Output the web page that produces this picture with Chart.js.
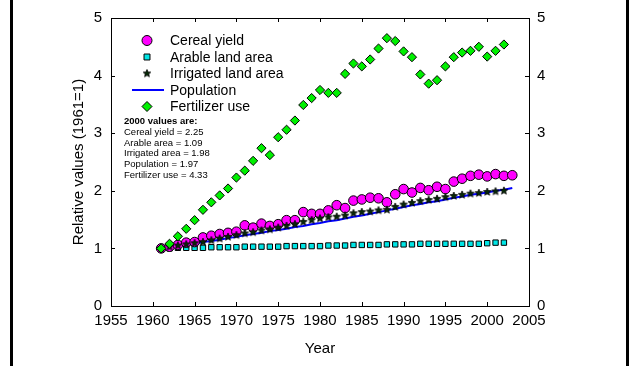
<!DOCTYPE html>
<html>
<head>
<meta charset="utf-8">
<script src="https://cdn.jsdelivr.net/npm/chart.js@4/dist/chart.umd.min.js"></script>
<style>
  body { margin: 0; background: #fff; }
  canvas { display: block; }
</style>
</head>
<body>
<canvas id="graph" width="629" height="366"></canvas>
<script>
'use strict';

// years 1961..2003
const years = [1961, 1962, 1963, 1964, 1965, 1966, 1967, 1968, 1969, 1970,
  1971, 1972, 1973, 1974, 1975, 1976, 1977, 1978, 1979, 1980,
  1981, 1982, 1983, 1984, 1985, 1986, 1987, 1988, 1989, 1990,
  1991, 1992, 1993, 1994, 1995, 1996, 1997, 1998, 1999, 2000,
  2001, 2002, 2003];

const cerealYield = [1.00, 1.03, 1.06, 1.10, 1.11, 1.19, 1.22, 1.25, 1.27, 1.29,
  1.40, 1.36, 1.43, 1.39, 1.42, 1.49, 1.49, 1.63, 1.60, 1.60,
  1.66, 1.75, 1.70, 1.83, 1.85, 1.88, 1.87, 1.80, 1.94, 2.03,
  1.97, 2.05, 2.01, 2.07, 2.03, 2.16, 2.21, 2.26, 2.28, 2.25,
  2.29, 2.26, 2.27];

const arableArea = [1.00, 1.00, 1.01, 1.01, 1.01, 1.01, 1.02, 1.02, 1.02, 1.02,
  1.03, 1.03, 1.03, 1.03, 1.03, 1.04, 1.04, 1.04, 1.04, 1.04,
  1.05, 1.05, 1.05, 1.06, 1.06, 1.06, 1.06, 1.07, 1.07, 1.07,
  1.07, 1.08, 1.08, 1.08, 1.08, 1.08, 1.08, 1.08, 1.08, 1.09,
  1.10, 1.10];

const irrigatedArea = [1.00, 1.03, 1.05, 1.07, 1.09, 1.11, 1.14, 1.17, 1.20, 1.23,
  1.26, 1.28, 1.31, 1.33, 1.36, 1.39, 1.42, 1.46, 1.49, 1.52,
  1.54, 1.55, 1.57, 1.61, 1.63, 1.64, 1.66, 1.67, 1.72, 1.76,
  1.79, 1.82, 1.84, 1.86, 1.89, 1.91, 1.93, 1.95, 1.96, 1.98,
  1.99, 2.00];

const population = [1.00, 1.02, 1.04, 1.06, 1.08, 1.11, 1.13, 1.15, 1.18, 1.20,
  1.23, 1.25, 1.27, 1.30, 1.32, 1.34, 1.37, 1.39, 1.42, 1.44,
  1.47, 1.49, 1.52, 1.55, 1.57, 1.60, 1.63, 1.66, 1.69, 1.72,
  1.75, 1.77, 1.80, 1.82, 1.85, 1.88, 1.90, 1.93, 1.95, 1.97,
  2.00, 2.02, 2.05];

const fertilizerUse = [1.00, 1.08, 1.21, 1.34, 1.49, 1.67, 1.80, 1.92, 2.04, 2.23,
  2.35, 2.52, 2.74, 2.62, 2.93, 3.06, 3.22, 3.49, 3.61, 3.75,
  3.70, 3.70, 4.03, 4.21, 4.16, 4.28, 4.47, 4.65, 4.60, 4.42,
  4.32, 4.02, 3.86, 3.92, 4.16, 4.32, 4.40, 4.43, 4.50, 4.33,
  4.43, 4.54];

const xTicks = [1955, 1960, 1965, 1970, 1975, 1980, 1985, 1990, 1995, 2000, 2005];
const yTicks = [0, 1, 2, 3, 4, 5];

const legendLabels = ['Cereal yield', 'Arable land area', 'Irrigated land area', 'Population', 'Fertilizer use'];
const noteLabels = ['Cereal yield', 'Arable area', 'Irrigated area', 'Population', 'Fertilizer use'];
const noteYear = 2000;

const FONT = "'Liberation Sans', Arial, sans-serif";

function toPoints(vals) {
  return vals.map((v, i) => ({ x: years[i], y: v }));
}

// small filled star for the irrigated series
function makeStar(r) {
  const c = document.createElement('canvas');
  c.width = c.height = Math.ceil(2 * r + 2);
  const g = c.getContext('2d');
  g.beginPath();
  for (let i = 0; i < 10; i++) {
    const a = -Math.PI / 2 + i * Math.PI / 5;
    const rr = i % 2 ? r * 0.45 : r;
    g.lineTo(c.width / 2 + rr * Math.cos(a), c.height / 2 + rr * Math.sin(a));
  }
  g.closePath();
  g.fillStyle = '#062806';
  g.fill();
  g.lineWidth = 0.8;
  g.strokeStyle = '#000';
  g.stroke();
  return c;
}
const star = makeStar(4);

// ticks inside the frame, legend, note, side bars
const extras = {
  id: 'extras',
  beforeDatasetsDraw(chart) {
    const ctx = chart.ctx;
    const a = chart.chartArea;
    const sx = chart.scales.x, sy = chart.scales.y;
    ctx.save();
    ctx.strokeStyle = '#000';
    ctx.lineWidth = 1;
    ctx.beginPath();
    sx.ticks.forEach(t => {
      const px = Math.round(sx.getPixelForValue(t.value)) + 0.5;
      ctx.moveTo(px, a.bottom); ctx.lineTo(px, a.bottom - 4);
      ctx.moveTo(px, a.top); ctx.lineTo(px, a.top + 4);
    });
    sy.ticks.forEach(t => {
      const py = Math.round(sy.getPixelForValue(t.value)) + 0.5;
      ctx.moveTo(a.left, py); ctx.lineTo(a.left + 4, py);
      ctx.moveTo(a.right, py); ctx.lineTo(a.right - 4, py);
    });
    ctx.stroke();
    ctx.restore();
  },
  afterDraw(chart) {
    const ctx = chart.ctx;
    ctx.save();
    // legend
    const lx = 147, tx = 170;
    const rows = [40.5, 57, 73.5, 90, 106.5];
    chart.data.datasets.forEach((ds, i) => {
      const y = rows[i];
      if (ds.showLine) {
        ctx.strokeStyle = ds.borderColor;
        ctx.lineWidth = ds.borderWidth;
        ctx.beginPath();
        ctx.moveTo(132, y); ctx.lineTo(164, y);
        ctx.stroke();
      } else {
        ctx.fillStyle = ds.backgroundColor;
        ctx.strokeStyle = ds.borderColor;
        ctx.lineWidth = ds.borderWidth;
        Chart.helpers.drawPoint(ctx, {
          pointStyle: ds.pointStyle,
          radius: ds.legendRadius,
          rotation: 0,
          borderWidth: ds.borderWidth
        }, lx, y);
      }
      ctx.fillStyle = '#000';
      ctx.font = '14px ' + FONT;
      ctx.textAlign = 'left';
      ctx.textBaseline = 'middle';
      ctx.fillText(legendLabels[i], tx, y + 1);
    });
    // note with the 2000 values
    const k = years.indexOf(noteYear);
    const series = [cerealYield, arableArea, irrigatedArea, population, fertilizerUse];
    ctx.fillStyle = '#000';
    ctx.textBaseline = 'middle';
    ctx.font = 'bold 9.5px ' + FONT;
    ctx.fillText(noteYear + ' values are:', 124, 121.5);
    ctx.font = '9.5px ' + FONT;
    series.forEach((s, i) => {
      ctx.fillText(noteLabels[i] + ' = ' + s[k].toFixed(2), 124, 132.3 + i * 10.7);
    });
    // side bars
    ctx.fillStyle = '#000';
    ctx.fillRect(10, 0, 3, chart.height);
    ctx.fillRect(626, 0, 3, chart.height);
    ctx.restore();
  }
};

const axisFont = { family: FONT, size: 15 };
const borderOpts = { display: true, color: '#000', width: 1 };
const gridOpts = { drawOnChartArea: false, drawTicks: false, color: '#000' };

new Chart(document.querySelector('#graph').getContext('2d'), {
  type: 'scatter',
  data: {
    datasets: [{
      label: legendLabels[0],
      data: toPoints(cerealYield),
      pointStyle: 'circle',
      pointRadius: 4.8,
      legendRadius: 5,
      backgroundColor: '#ff00ff',
      borderColor: '#000',
      borderWidth: 1,
      order: 2
    }, {
      label: legendLabels[1],
      data: toPoints(arableArea),
      pointStyle: 'rect',
      pointRadius: 3.8,
      legendRadius: 4.2,
      backgroundColor: '#00e5e5',
      borderColor: '#000',
      borderWidth: 1,
      order: 4
    }, {
      label: legendLabels[2],
      data: toPoints(irrigatedArea),
      pointStyle: star,
      pointRadius: 4,
      legendRadius: 4,
      backgroundColor: '#062806',
      borderColor: '#000',
      borderWidth: 0,
      order: 1
    }, {
      label: legendLabels[3],
      data: toPoints(population),
      showLine: true,
      pointRadius: 0,
      borderColor: '#0000ff',
      borderWidth: 2,
      tension: 0,
      order: 3
    }, {
      label: legendLabels[4],
      data: toPoints(fertilizerUse),
      pointStyle: 'rectRot',
      pointRadius: 4.6,
      legendRadius: 5,
      backgroundColor: '#00f000',
      borderColor: '#000',
      borderWidth: 1,
      order: 0
    }]
  },
  options: {
    responsive: false,
    animation: false,
    devicePixelRatio: 1,
    layout: { padding: { left: 66, right: 0, top: 0, bottom: 4 } },
    plugins: { legend: { display: false }, tooltip: { enabled: false } },
    scales: {
      x: {
        type: 'linear', position: 'bottom',
        min: xTicks[0], max: xTicks[xTicks.length - 1],
        afterBuildTicks: s => { s.ticks = xTicks.map(v => ({ value: v })); },
        afterFit: s => { s.height = 56; },
        grid: gridOpts, border: borderOpts,
        ticks: { color: '#000', font: axisFont, padding: 6, maxRotation: 0, autoSkip: false, callback: v => String(v) },
        title: { display: true, text: 'Year', color: '#000', font: axisFont, padding: { top: 4, bottom: 4 } }
      },
      x2: {
        type: 'linear', position: 'top',
        min: xTicks[0], max: xTicks[xTicks.length - 1],
        afterFit: s => { s.height = 14; },
        grid: gridOpts, border: borderOpts,
        ticks: { display: false }
      },
      y: {
        type: 'linear', position: 'left',
        min: yTicks[0], max: yTicks[yTicks.length - 1],
        afterBuildTicks: s => { s.ticks = yTicks.map(v => ({ value: v })); },
        afterFit: s => { s.width = 45; },
        grid: gridOpts, border: borderOpts,
        ticks: { color: '#000', font: axisFont, padding: 9 },
        title: { display: true, text: 'Relative values (1961=1)', color: '#000', font: axisFont, padding: { top: 4, bottom: 4 } }
      },
      y2: {
        type: 'linear', position: 'right',
        min: yTicks[0], max: yTicks[yTicks.length - 1],
        afterBuildTicks: s => { s.ticks = yTicks.map(v => ({ value: v })); },
        afterFit: s => { s.width = 100; },
        grid: gridOpts, border: borderOpts,
        ticks: { color: '#000', font: axisFont, padding: 8 }
      }
    }
  },
  plugins: [extras]
});
</script>
</body>
</html>
